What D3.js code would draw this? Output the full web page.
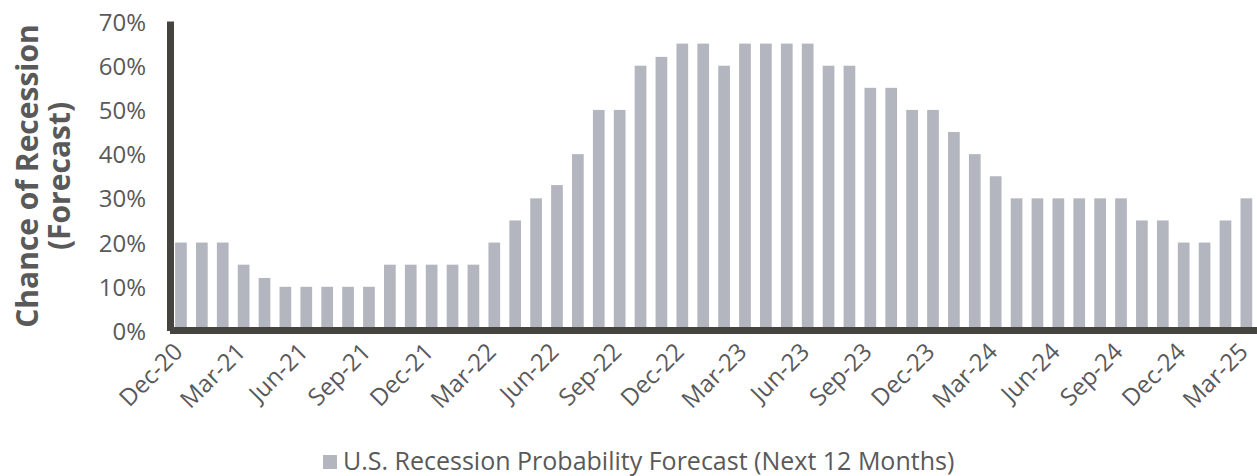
<!DOCTYPE html>
<html>
<head>
<meta charset="utf-8">
<script src="https://cdnjs.cloudflare.com/ajax/libs/d3/7.8.5/d3.min.js"></script>
<style>
  body { margin: 0; background: #fff; }
  text { font-family: "Open Sans", Lato, sans-serif; }
</style>
</head>
<body>
<svg width="1257" height="476"></svg>
<script>
// months shown on the axis, Dec-20 .. Mar-25
var months = ["Dec-20","Jan-21","Feb-21","Mar-21","Apr-21","May-21","Jun-21","Jul-21","Aug-21","Sep-21","Oct-21","Nov-21",
  "Dec-21","Jan-22","Feb-22","Mar-22","Apr-22","May-22","Jun-22","Jul-22","Aug-22","Sep-22","Oct-22","Nov-22",
  "Dec-22","Jan-23","Feb-23","Mar-23","Apr-23","May-23","Jun-23","Jul-23","Aug-23","Sep-23","Oct-23","Nov-23",
  "Dec-23","Jan-24","Feb-24","Mar-24","Apr-24","May-24","Jun-24","Jul-24","Aug-24","Sep-24","Oct-24","Nov-24",
  "Dec-24","Jan-25","Feb-25","Mar-25"];

// recession probability (%)
var probability = [20,20,20,15,12,10,10,10,10,10,15,15,
  15,15,15,20,25,30,33,40,50,50,60,62,
  65,65,60,65,65,65,65,60,60,55,55,50,
  50,45,40,35,30,30,30,30,30,30,25,25,
  20,20,25,30];

var yTicks = [0,10,20,30,40,50,60,70];
var seriesName = "U.S. Recession Probability Forecast (Next 12 Months)";

function main() {
    var svg = d3.select("svg");
    var barColor = "#b3b5bf",
        axisColor = "#46443f",
        textColor = "#595959";

    var x = d3.scaleBand()
        .domain(months)
        .range([170.5, 1256.8])
        .paddingInner(0.44)
        .paddingOuter(0.22);

    var y = d3.scaleLinear()
        .domain([0, 70])
        .range([331, 21.5]);

    // bars
    svg.append("g")
        .attr("fill", barColor)
        .selectAll("rect")
        .data(probability)
        .enter().append("rect")
        .attr("x", function(d, i) { return x(months[i]); })
        .attr("y", function(d) { return y(d); })
        .attr("width", x.bandwidth())
        .attr("height", function(d) { return y(0) - y(d); });

    // y axis: labels only, thick line drawn separately
    var yAxis = svg.append("g")
        .attr("transform", "translate(146,0)")
        .call(d3.axisLeft(y).tickValues(yTicks).tickSize(0).tickFormat(function(d) { return d + "%"; }));
    yAxis.select(".domain").remove();
    yAxis.selectAll("text")
        .attr("x", 0)
        .attr("dy", "0.36em")
        .attr("fill", textColor)
        .style("font-size", "24px")
        .style("font-family", "Open Sans");

    svg.append("line")
        .attr("x1", 170.5).attr("x2", 170.5)
        .attr("y1", y(70)).attr("y2", y(0))
        .attr("stroke", axisColor).attr("stroke-width", 7);

    svg.append("line")
        .attr("x1", 170).attr("x2", 1257)
        .attr("y1", 330.5).attr("y2", 330.5)
        .attr("stroke", axisColor).attr("stroke-width", 7);

    // x axis labels every third month
    var xAxis = svg.append("g")
        .attr("transform", "translate(0,341)")
        .call(d3.axisBottom(x)
            .tickValues(months.filter(function(m, i) { return i % 3 == 0; }))
            .tickSize(0));
    xAxis.select(".domain").remove();
    xAxis.selectAll("text")
        .attr("y", 0)
        .attr("dy", "0.72em")
        .attr("text-anchor", "end")
        .attr("transform", "translate(-9,0) rotate(-45)")
        .attr("fill", textColor)
        .style("font-size", "24px")
        .style("font-family", "Open Sans");

    // y title
    var title = svg.append("g")
        .attr("fill", textColor)
        .attr("font-weight", "bold")
        .attr("font-size", "30px")
        .attr("text-anchor", "middle");
    title.append("text")
        .attr("transform", "translate(38,176) rotate(-90)")
        .text("Chance of Recession");
    title.append("text")
        .attr("transform", "translate(70,176) rotate(-90)")
        .text("(Forecast)");

    // legend
    var legend = svg.append("g").attr("transform", "translate(323,455)");
    legend.append("rect")
        .attr("width", 14).attr("height", 14)
        .attr("fill", barColor);
    legend.append("text")
        .attr("x", 20).attr("y", 15)
        .attr("fill", textColor)
        .attr("font-size", "25px")
        .text(seriesName);
}
main();
</script>
</body>
</html>
